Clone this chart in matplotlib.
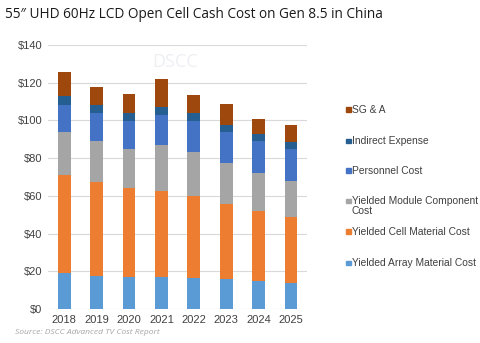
import numpy as np
import matplotlib
matplotlib.use("Agg")
import matplotlib.pyplot as plt
from matplotlib.patches import Rectangle

years = ["2018", "2019", "2020", "2021", "2022", "2023", "2024", "2025"]
array_cost = [19.0, 17.5, 16.8, 17.1, 16.4, 15.7, 14.8, 13.9]
cell_cost = [52.2, 49.6, 47.2, 45.6, 43.3, 40.0, 37.3, 34.9]
module_cost = [22.8, 22.0, 20.8, 24.4, 23.7, 21.5, 20.2, 19.1]
personnel_cost = [14.3, 14.6, 15.0, 15.9, 16.4, 16.5, 16.9, 16.9]
indirect_cost = [4.6, 4.6, 4.3, 4.3, 4.3, 3.9, 3.6, 3.5]
sga_cost = [12.5, 9.2, 9.9, 14.8, 9.2, 10.9, 7.9, 9.3]

series_labels = ["Yielded Array Material Cost", "Yielded Cell Material Cost",
                 "Yielded Module Component\nCost", "Personnel Cost",
                 "Indirect Expense", "SG & A"]
colors = ["#5B9BD5", "#ED7D31", "#A5A5A5", "#4472C4", "#255E91", "#9E480E"]
series = [array_cost, cell_cost, module_cost, personnel_cost, indirect_cost, sga_cost]

fig = plt.figure(figsize=(4.8, 3.43), dpi=100)
ax = fig.add_axes([0.1, 0.099, 0.54, 0.77])

x = np.arange(len(years))
bottom = np.zeros(len(years))
for vals, c in zip(series, colors):
    ax.bar(x, vals, width=0.4, bottom=bottom, color=c, zorder=3)
    bottom += np.array(vals)

ax.set_xlim(-0.5, 7.5)
ax.set_ylim(0, 140)
ax.set_yticks(np.arange(0, 141, 20))
ax.set_yticklabels([f"${v}" for v in range(0, 141, 20)])
ax.set_xticks(x)
ax.set_xticklabels(years)
ax.tick_params(length=0, labelsize=8, colors="#404040", pad=4)
for lab in ax.get_xticklabels() + ax.get_yticklabels():
    lab.set_family("Liberation Sans")
ax.grid(axis="y", color="#D9D9D9", linewidth=0.8, zorder=0)
for s in ax.spines.values():
    s.set_visible(False)

ax.text(0.49, 0.935, "DSCC", transform=ax.transAxes, ha="center", va="center",
        fontsize=13, color="#EDEFF3", family="Open Sans", zorder=1)

# legend drawn entry by entry, top entry first
leg_y = [110, 141, 171, 201, 232, 263]
for lab, c, yy in zip(series_labels[::-1], colors[::-1], leg_y):
    yf = 1 - yy / 343
    fig.patches.append(Rectangle((346 / 480, yf - 2 / 343), 4.5 / 480, 4.5 / 343,
                                 transform=fig.transFigure, color=c))
    if "\n" in lab:
        fig.text(352 / 480, 1 - (201 - 5.5) / 343, lab, ha="left", va="top",
                 fontsize=7.4, color="#404040", family="Liberation Sans",
                 linespacing=1.1)
    else:
        fig.text(352 / 480, yf, lab, ha="left", va="center",
                 fontsize=7.4, color="#404040", family="Liberation Sans")

fig.text(5 / 480, 1 - 15 / 343, "55\u2033 UHD 60Hz LCD Open Cell Cash Cost on Gen 8.5 in China",
         ha="left", va="center", fontsize=9.8, color="#1A1A1A", family="Open Sans",
         weight="medium")
fig.text(15 / 480, 1 - 332 / 343, "Source: DSCC Advanced TV Cost Report",
         ha="left", va="center", fontsize=6.1, color="#A6A6A6", style="italic",
         family="Open Sans")

fig.savefig("out.png", dpi=100)
plt.close(fig)
